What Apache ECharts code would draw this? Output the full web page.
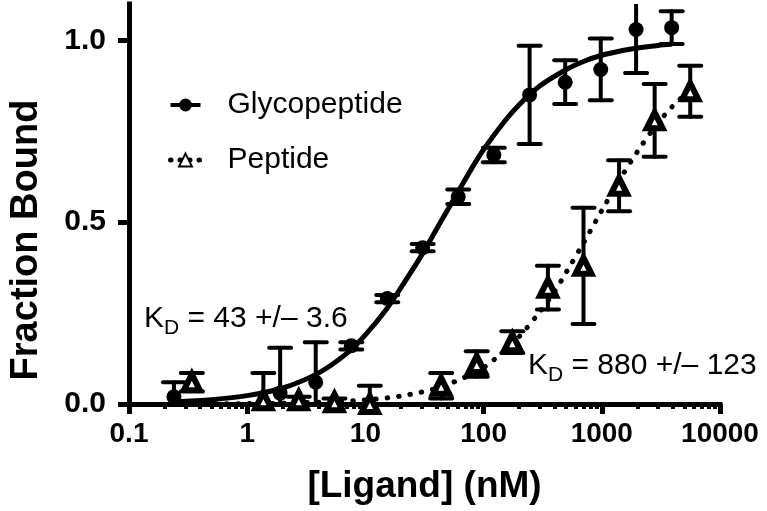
<!DOCTYPE html>
<html><head><meta charset="utf-8">
<script src="https://cdn.jsdelivr.net/npm/echarts@6/dist/echarts.min.js"></script>
<style>html,body{margin:0;padding:0;background:#fff}#c{width:767px;height:511px}</style>
</head><body><div id="c"></div>
<script>
// ---- data ----
const glycoConc  = [0.24, 1.9, 3.8, 7.6, 15.3, 30.5, 61, 122, 245, 490, 980, 1950, 3900];
const glycoBound = [0.02, 0.03, 0.06, 0.16, 0.29, 0.43, 0.57, 0.685, 0.85, 0.885, 0.92, 1.03, 1.035];
const glycoErr   = [0.04, 0.125, 0.11, 0.01, 0.01, 0.01, 0.02, 0.02, 0.135, 0.06, 0.085, 0.12, 0.045];

const pepConc  = [0.34, 1.37, 2.73, 5.47, 10.9, 43.75, 87.5, 175, 350, 700, 1400, 2800, 5600];
const pepBound = [0.06, 0.01, 0.01, 0.005, 0.0, 0.05, 0.11, 0.17, 0.32, 0.38, 0.60, 0.78, 0.86];
const pepErr   = [0.025, 0.075, 0.01, 0.01, 0.05, 0.035, 0.035, 0.03, 0.06, 0.16, 0.07, 0.10, 0.07];

const glycoFitX = [0.24, 0.5, 1, 2, 4, 7, 10, 15, 20, 30, 45, 60, 80, 100, 150, 200, 300, 500, 700, 1000, 1500, 2000, 3000, 3900];
const glycoFitY = [0.006, 0.012, 0.023, 0.044, 0.085, 0.14, 0.19, 0.26, 0.32, 0.41, 0.51, 0.58, 0.65, 0.70, 0.777, 0.823, 0.875, 0.92, 0.942, 0.959, 0.972, 0.979, 0.986, 0.989];

const pepFitX = [0.34, 1, 2, 5, 10, 20, 40, 70, 100, 150, 200, 300, 400, 500, 700, 1000, 1400, 2000, 2800, 4000, 5600];
const pepFitY = [0.0004, 0.001, 0.002, 0.006, 0.011, 0.022, 0.043, 0.074, 0.10, 0.146, 0.185, 0.254, 0.31, 0.362, 0.443, 0.532, 0.614, 0.694, 0.761, 0.82, 0.864];

const xTickValues = [0.1, 1, 10, 100, 1000, 10000];
const xTickLabels = ['0.1', '1', '10', '100', '1000', '10000'];
const xMinorTicks = [0.2,0.3,0.4,0.5,0.6,0.7,0.8,0.9, 2,3,4,5,6,7,8,9, 20,30,40,50,60,70,80,90,
                     200,300,400,500,600,700,800,900, 2000,3000,4000,5000,6000,7000,8000,9000];
const yTickValues = [0, 0.5, 1.0];
const yTickLabels = ['0.0', '0.5', '1.0'];

const seriesNames = ['Glycopeptide', 'Peptide'];
const xTitle = '[Ligand] (nM)';
const yTitle = 'Fraction Bound';
const annot1 = ['K', 'D', ' = 43 +/\u2013 3.6'];
const annot2 = ['K', 'D', ' = 880 +/\u2013 123'];

// ---- chart ----
const FONT = '"Liberation Sans", Arial, Helvetica, sans-serif';
const chart = echarts.init(document.getElementById('c'), null, {renderer: 'canvas'});

function pairs(xs, ys) { return xs.map((x, i) => [x, ys[i]]); }
function errData(xs, ys, es) { return xs.map((x, i) => [x, ys[i] - es[i], ys[i] + es[i]]); }

function errRender(params, api) {
  const x = api.value(0), lo = api.value(1), hi = api.value(2);
  const a = api.coord([x, lo]), b = api.coord([x, hi]);
  const hw = 11;
  const st = {stroke: '#000', lineWidth: 4, lineCap: 'round'};
  return {type: 'group', children: [
    {type: 'line', shape: {x1: a[0], y1: a[1], x2: b[0], y2: b[1]}, style: st},
    {type: 'line', shape: {x1: a[0] - hw, y1: a[1], x2: a[0] + hw, y2: a[1]}, style: st},
    {type: 'line', shape: {x1: b[0] - hw, y1: b[1], x2: b[0] + hw, y2: b[1]}, style: st}
  ]};
}

const xLabelMap = {};
xTickValues.forEach((v, i) => { xLabelMap[v] = xTickLabels[i]; });
const yLabelMap = {};
yTickValues.forEach((v, i) => { yLabelMap[v] = yTickLabels[i]; });

function annotRich(parts) {
  return {
    text: '{k|' + parts[0] + '}{d|' + parts[1] + '}{k|' + parts[2] + '}',
    rich: {
      k: {fontFamily: FONT, fontSize: 30, color: '#000', verticalAlign: 'top', lineHeight: 30},
      d: {fontFamily: FONT, fontSize: 21, color: '#000', verticalAlign: 'top', padding: [14, 0, 0, 0], lineHeight: 21}
    }
  };
}

const option = {
  animation: false,
  backgroundColor: '#fff',
  grid: {left: 120, right: 47, top: 4, bottom: 107, containLabel: false},
  xAxis: [{
    type: 'log', logBase: 10, min: 0.1, max: 10000, position: 'bottom',
    name: xTitle, nameLocation: 'middle', nameGap: 64,
    nameTextStyle: {fontFamily: FONT, fontWeight: 'bold', fontSize: 37, color: '#000'},
    axisLine: {show: true, onZero: false, lineStyle: {color: '#000', width: 5, cap: 'square'}},
    axisTick: {show: true, inside: false, length: 10, customValues: xTickValues, lineStyle: {color: '#000', width: 5}},
    axisLabel: {show: true, margin: 16, customValues: xTickValues,
      formatter: v => xLabelMap[v] !== undefined ? xLabelMap[v] : '',
      fontFamily: FONT, fontWeight: 'bold', fontSize: 28, color: '#000'},
    splitLine: {show: false}, minorTick: {show: false}
  }, {
    type: 'log', logBase: 10, min: 0.1, max: 10000, position: 'bottom', offset: 0,
    axisLine: {show: false},
    axisTick: {show: true, length: 5, customValues: xMinorTicks, lineStyle: {color: '#000', width: 4}},
    axisLabel: {show: false}, splitLine: {show: false}
  }],
  yAxis: {
    type: 'value', min: 0, max: 1.1,
    name: yTitle, nameLocation: 'middle', nameGap: 83, nameRotate: 90,
    nameTextStyle: {fontFamily: FONT, fontWeight: 'bold', fontSize: 38, color: '#000', padding: [0, 72, 0, 0]},
    axisLine: {show: true, onZero: false, lineStyle: {color: '#000', width: 5, cap: 'square'}},
    axisTick: {show: true, length: 11, customValues: yTickValues, lineStyle: {color: '#000', width: 5}},
    axisLabel: {show: true, margin: 23, customValues: yTickValues,
      formatter: v => yLabelMap[v] !== undefined ? yLabelMap[v] : '',
      fontFamily: FONT, fontWeight: 'bold', fontSize: 30, color: '#000'},
    splitLine: {show: false}
  },
  legend: {
    orient: 'vertical', left: 163, top: 85, itemGap: 25, itemWidth: 30, itemHeight: 16,
    textStyle: {fontFamily: FONT, fontSize: 30, color: '#000', padding: [0, 0, 0, 22]},
    data: [
      {name: seriesNames[0], lineStyle: {width: 4, opacity: 1, color: '#000', type: 'solid'}},
      {name: seriesNames[1], lineStyle: {width: 5, opacity: 1, color: '#000', type: [0.5, 9], cap: 'round'}}
    ],
    selectedMode: false
  },
  graphic: [
    {type: 'text', left: 144, top: 304, style: annotRich(annot1), z: 20},
    {type: 'text', left: 528, top: 351, style: annotRich(annot2), z: 20}
  ],
  series: [
    {
      type: 'line', name: 'glycoFit', xAxisIndex: 0, data: pairs(glycoFitX, glycoFitY),
      smooth: 0.3, showSymbol: false, symbol: 'none', silent: true, z: 2,
      lineStyle: {color: '#000', width: 5}
    },
    {
      type: 'line', name: 'pepFit', xAxisIndex: 0, data: pairs(pepFitX, pepFitY),
      smooth: 0.3, showSymbol: false, symbol: 'none', silent: true, z: 2,
      lineStyle: {color: '#000', width: 5, type: [0.5, 11], cap: 'round'}
    },
    {
      type: 'custom', name: 'glycoErr', xAxisIndex: 0, renderItem: errRender, clip: true, z: 3,
      data: errData(glycoConc, glycoBound, glycoErr), silent: true
    },
    {
      type: 'custom', name: 'pepErr', xAxisIndex: 0, renderItem: errRender, clip: true, z: 3,
      data: errData(pepConc, pepBound, pepErr), silent: true
    },
    {
      type: 'line', name: seriesNames[0], xAxisIndex: 0, data: pairs(glycoConc, glycoBound),
      symbol: 'circle', symbolSize: 15, showSymbol: true, z: 5,
      itemStyle: {color: '#000'}, lineStyle: {width: 0, opacity: 0}
    },
    {
      type: 'line', name: seriesNames[1], xAxisIndex: 0, data: pairs(pepConc, pepBound),
      symbol: 'triangle', symbolSize: 16, showSymbol: true, z: 6,
      itemStyle: {color: '#fff', borderColor: '#000', borderWidth: 6}, lineStyle: {width: 0, opacity: 0}
    }
  ]
};
chart.setOption(option);
</script>
</body></html>
